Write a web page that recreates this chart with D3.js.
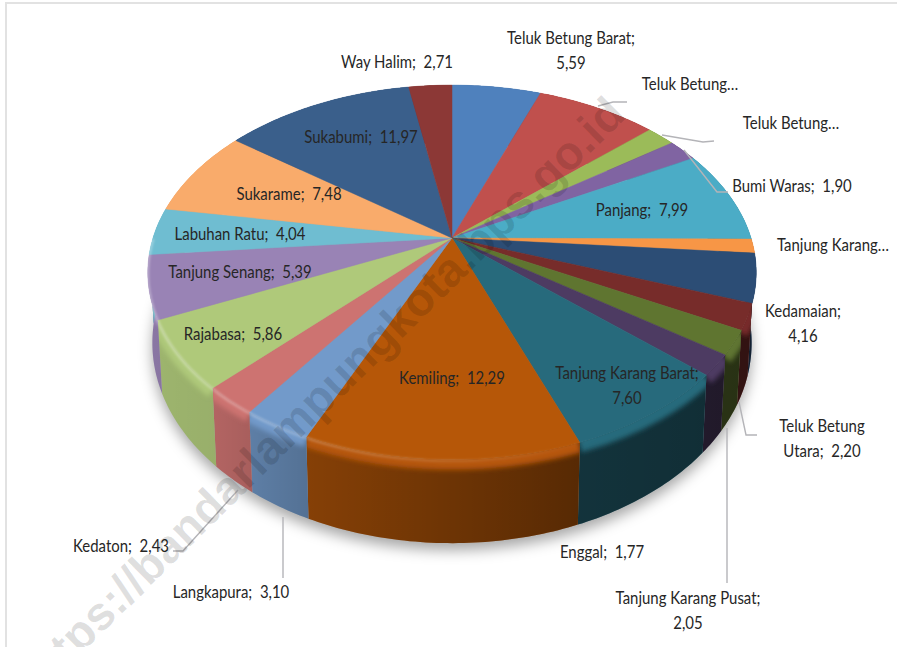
<!DOCTYPE html>
<html>
<head>
<meta charset="utf-8">
<script src="https://cdn.jsdelivr.net/npm/d3@7"></script>
<style>
  body { margin: 0; background: #fff; }
  text { font-family: Lato, "Liberation Sans", sans-serif; }
</style>
</head>
<body>
<svg id="chart"></svg>
<script>
// nama kecamatan, searah jarum jam dari atas. Tanda | = pindah baris
var names = ["Teluk Betung Barat", "Teluk Betung…", "Teluk Betung…", "Bumi Waras", "Panjang",
  "Tanjung Karang…", "Kedamaian", "Teluk Betung|Utara", "Tanjung Karang Pusat", "Enggal",
  "Tanjung Karang Barat", "Kemiling", "Langkapura", "Kedaton", "Rajabasa",
  "Tanjung Senang", "Labuhan Ratu", "Sukarame", "Sukabumi", "Way Halim"];
// yang labelnya terpotong (index 1, 2, 5) ditaksir dari gambar
var values = [5.59, 7.6, 1.8, 1.90, 7.99, 1.2, 4.16, 2.20, 2.05, 1.77,
  7.60, 12.29, 3.10, 2.43, 5.86, 5.39, 4.04, 7.48, 11.97, 2.71];
var colors = ["#4f81bd", "#c0504d", "#9bbb59", "#8064a2", "#4bacc6", "#f79646",
  "#2c4d75", "#772c2a", "#5f7530", "#4d3b62", "#276a7c", "#b65708",
  "#729aca", "#cd7371", "#afc97a", "#9983b5", "#6fbdd1", "#f9ab6b",
  "#3a5f8b", "#8c3836"];
// label dua baris
var twoLines = ["Teluk Betung Barat", "Kedamaian", "Tanjung Karang Pusat", "Tanjung Karang Barat"];

// posisi label [x tengah, y tengah baris pertama]
var labelPos = [[571, 38], [690, 84], [791, 123], [792, 186], [642, 210],
  [833, 245], [803, 311], [822, 426], [688, 598], [602, 552],
  [627, 373], [452, 378], [231, 592], [121, 546], [233, 334],
  [240, 272], [240, 234], [289, 194], [361, 137], [397, 62]];
var leaders = [
  [[598, 106], [613, 102], [627, 102]],
  [[662, 135], [703, 142], [714, 141]],
  [[684, 150], [717, 192], [728, 192]],
  [[238, 490], [183, 551], [173, 551]],
  [[283, 517], [283, 578]],
  [[739, 402], [746, 435], [757, 435]],
  [[727, 428], [727, 583]]
];

var svgWidth = 897, svgHeight = 647;
var svg = d3.select("#chart").attr("width", svgWidth).attr("height", svgHeight);
var defs = svg.append("defs");

// proyeksi perspektif lingkaran pie ke layar
var cx = 452, cy = 238, A = 299, B = 181, p = 0.184, tebal = 68;
function rim(a) {
  var X = Math.sin(a), z = -Math.cos(a), s = 1 / (1 - p * z);
  return [cx + A * X * s, cy + B * z * s, s];
}
function rimBawah(a) {
  var r = rim(a);
  return [cx + (r[0] - cx) * 0.985, r[1] + tebal * r[2]];
}
function arcPoints(d, fn) {
  var n = Math.max(2, Math.ceil((d.endAngle - d.startAngle) / 0.015));
  return d3.range(n + 1).map(function (i) {
    return fn(d.startAngle + (d.endAngle - d.startAngle) * i / n);
  });
}

var line = d3.line();
var pie = d3.pie().sort(null).value(function (d) { return d; });
var slices = pie(values);
var colorScale = d3.scaleOrdinal().domain(d3.range(values.length)).range(colors);

function sidePath(d) {
  var atas = arcPoints(d, rim).map(function (q) { return [q[0], q[1]]; });
  var bawah = arcPoints(d, rimBawah).reverse();
  return line(atas.concat(bawah)) + "Z";
}
function topPath(d) {
  var atas = arcPoints(d, rim).map(function (q) { return [q[0], q[1]]; });
  return line([[cx, cy]].concat(atas)) + "Z";
}

// filter blur
function blur(id, dev) {
  defs.append("filter").attr("id", id)
    .attr("filterUnits", "userSpaceOnUse")
    .attr("x", 0).attr("y", 0).attr("width", svgWidth).attr("height", svgHeight)
    .append("feGaussianBlur").attr("stdDeviation", dev);
}
blur("blurShadow", 7);
blur("blurBevel", 2.6);
blur("blurLight", 1.2);

// bayangan gelap sisi, makin ke kanan makin gelap
var shade = defs.append("linearGradient").attr("id", "shade")
  .attr("gradientUnits", "userSpaceOnUse")
  .attr("x1", 150).attr("x2", 750).attr("y1", 0).attr("y2", 0);
[[150, 0.1], [215, 0.13], [250, 0.18], [310, 0.27], [580, 0.52], [750, 0.58]].forEach(function (s) {
  shade.append("stop").attr("offset", (s[0] - 150) / 600).attr("stop-color", "#000").attr("stop-opacity", s[1]);
});
var kilap = defs.append("linearGradient").attr("id", "kilap")
  .attr("gradientUnits", "userSpaceOnUse")
  .attr("x1", 150).attr("x2", 600).attr("y1", 0).attr("y2", 0);
kilap.append("stop").attr("offset", 0).attr("stop-color", "#fff").attr("stop-opacity", 0.3);
kilap.append("stop").attr("offset", 1).attr("stop-color", "#fff").attr("stop-opacity", 0);

// bingkai
svg.append("path")
  .attr("d", "M6,650V3H900")
  .attr("fill", "none").attr("stroke", "#e2e2e2").attr("stroke-width", 2);

// bayangan pie
var bawahPenuh = d3.range(0, 361, 2).map(function (t) { return rimBawah(t * Math.PI / 180); });
svg.append("path")
  .attr("d", line(bawahPenuh) + "Z")
  .attr("transform", "translate(0,7)")
  .attr("fill", "#000").attr("fill-opacity", 0.35)
  .attr("filter", "url(#blurShadow)");

// sisi
var sisi = svg.append("g");
slices.forEach(function (d, i) {
  defs.append("clipPath").attr("id", "clip" + i).append("path").attr("d", sidePath(d));
  var g = sisi.append("g");
  g.append("path").attr("d", sidePath(d)).attr("fill", colorScale(i));
  g.append("path").attr("d", sidePath(d)).attr("fill", "url(#shade)");
  var pita = arcPoints(d, rim).map(function (q) { return [q[0], q[1] + 3]; });
  g.append("g").attr("clip-path", "url(#clip" + i + ")")
    .append("path")
    .attr("d", line(pita))
    .attr("fill", "none")
    .attr("stroke", colorScale(i))
    .attr("stroke-width", 14)
    .attr("filter", "url(#blurBevel)");
});

// permukaan atas
svg.append("g").selectAll("path")
  .data(slices)
  .enter()
  .append("path")
  .attr("d", topPath)
  .attr("fill", function (d, i) { return colorScale(i); })
  .attr("stroke", function (d, i) { return colorScale(i); })
  .attr("stroke-width", 0.5);

// kilap di tepi kiri depan
var tepi = d3.range(90, 215, 2).map(function (t) {
  var r = rim(-t * Math.PI / 180);
  return [r[0], r[1] + 1];
});
svg.append("path")
  .attr("d", line(tepi))
  .attr("fill", "none")
  .attr("stroke", "url(#kilap)")
  .attr("stroke-width", 3)
  .attr("filter", "url(#blurLight)");

// garis penunjuk
svg.append("g").selectAll("path")
  .data(leaders)
  .enter()
  .append("path")
  .attr("d", function (d) { return line(d); })
  .attr("fill", "none")
  .attr("stroke", "#b4b4b8")
  .attr("stroke-width", 1.4);

function labelRows(i) {
  var name = names[i], val = String(values[i].toFixed(2)).replace(".", ",");
  if (name.indexOf("…") >= 0) return [name];
  if (name.indexOf("|") >= 0) {
    var part = name.split("|");
    return [part[0], part[1] + ";  " + val];
  }
  if (twoLines.indexOf(name) >= 0) return [name + ";", val];
  return [name + ";  " + val];
}

var labels = svg.append("g");
names.forEach(function (n, i) {
  labelRows(i).forEach(function (row, k) {
    labels.append("text")
      .attr("transform", "translate(" + labelPos[i][0] + "," + (labelPos[i][1] + k * 25) + ") scale(0.83,1)")
      .attr("dy", "0.35em")
      .attr("text-anchor", "middle")
      .attr("font-size", 18)
      .attr("fill", "#262626")
      .style("white-space", "pre")
      .text(row);
  });
});

// watermark
svg.append("text")
  .attr("transform", "translate(37,697) rotate(-44.5)")
  .attr("font-size", 47)
  .attr("font-weight", "bold")
  .attr("fill", "#000")
  .attr("fill-opacity", 0.13)
  .style("font-family", "'Liberation Sans', sans-serif")
  .text("https://bandarlampungkota.bps.go.id");
</script>
</body>
</html>
